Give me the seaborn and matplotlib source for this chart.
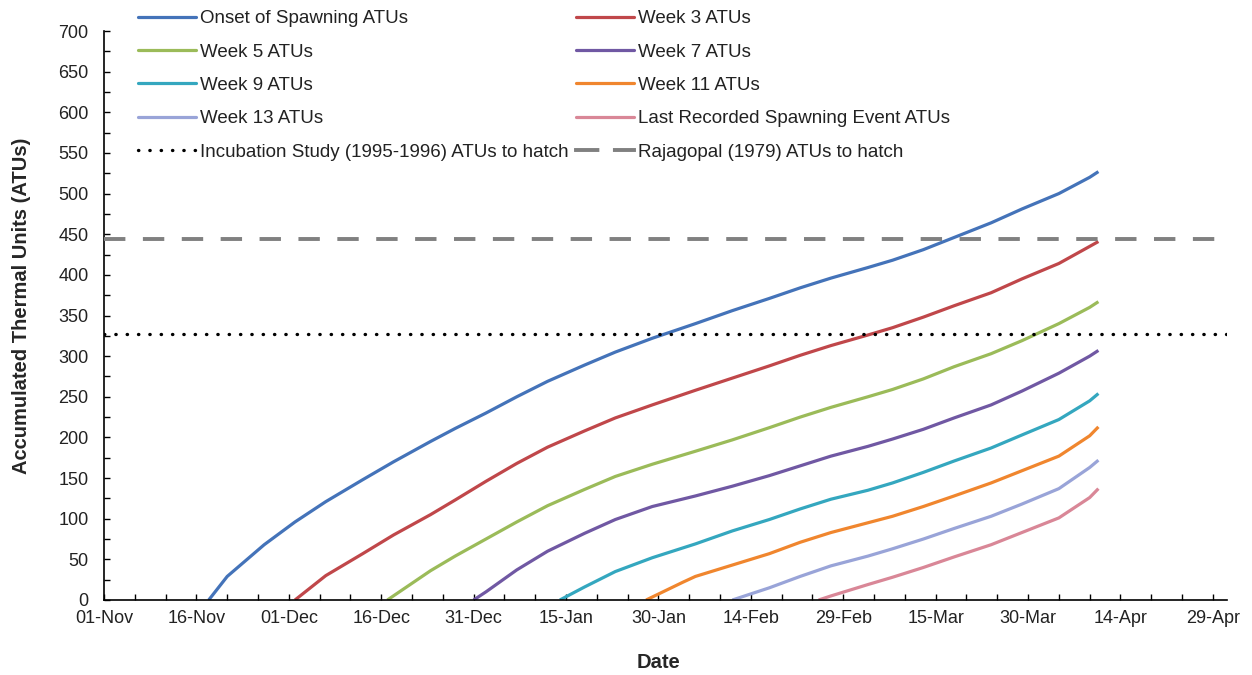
import numpy as np
import pandas as pd
import matplotlib
matplotlib.use("Agg")
import matplotlib.pyplot as plt
import matplotlib.dates as mdates
from matplotlib.lines import Line2D
from matplotlib.ticker import MultipleLocator, FixedLocator, NullFormatter
import seaborn as sns

# ---------------- data ----------------
END = "2012-04-10 10:00"

onset_dates = ["2011-11-18", "2011-11-21", "2011-11-27", "2011-12-02", "2011-12-07", "2011-12-13",
               "2011-12-18", "2011-12-24", "2011-12-28", "2012-01-02", "2012-01-07", "2012-01-12",
               "2012-01-18", "2012-01-23", "2012-01-29", "2012-02-05", "2012-02-11", "2012-02-17",
               "2012-02-22", "2012-02-27", "2012-03-04", "2012-03-08", "2012-03-13", "2012-03-18",
               "2012-03-24", "2012-03-29", "2012-04-04", "2012-04-09", END]
onset_atu = [0, 29, 68, 96, 121, 148, 170, 195, 211, 230, 250, 269, 289, 305, 322, 340, 356, 371,
             384, 396, 409, 418, 431, 446, 464, 481, 500, 520, 527]

week3_dates = ["2011-12-02", "2011-12-07", "2011-12-13", "2011-12-18", "2011-12-24", "2011-12-28",
               "2012-01-02", "2012-01-07", "2012-01-12", "2012-01-18", "2012-01-23", "2012-01-29",
               "2012-02-05", "2012-02-11", "2012-02-17", "2012-02-22", "2012-02-27", "2012-03-04",
               "2012-03-08", "2012-03-13", "2012-03-18", "2012-03-24", "2012-03-29", "2012-04-04",
               "2012-04-09", END]
week3_atu = [0, 30, 57, 80, 105, 123, 146, 168, 188, 208, 224, 240, 258, 273, 288, 301, 313, 326,
             335, 348, 362, 378, 395, 414, 435, 441]

week5_dates = ["2011-12-17", "2011-12-24", "2011-12-28", "2012-01-02", "2012-01-07", "2012-01-12",
               "2012-01-18", "2012-01-23", "2012-01-29", "2012-02-05", "2012-02-11", "2012-02-17",
               "2012-02-22", "2012-02-27", "2012-03-04", "2012-03-08", "2012-03-13", "2012-03-18",
               "2012-03-24", "2012-03-29", "2012-04-04", "2012-04-09", END]
week5_atu = [0, 36, 54, 75, 96, 116, 136, 152, 167, 183, 197, 212, 225, 237, 250, 259, 272, 287,
             303, 319, 340, 360, 367]

week7_dates = ["2011-12-31", "2012-01-02", "2012-01-07", "2012-01-12", "2012-01-18", "2012-01-23",
               "2012-01-29", "2012-02-05", "2012-02-11", "2012-02-17", "2012-02-22", "2012-02-27",
               "2012-03-04", "2012-03-08", "2012-03-13", "2012-03-18", "2012-03-24", "2012-03-29",
               "2012-04-04", "2012-04-09", END]
week7_atu = [0, 10, 37, 60, 82, 99, 115, 128, 140, 153, 165, 177, 189, 198, 210, 224, 240, 257,
             279, 300, 307]

week9_dates = ["2012-01-14", "2012-01-18", "2012-01-23", "2012-01-29", "2012-02-05", "2012-02-11",
               "2012-02-17", "2012-02-22", "2012-02-27", "2012-03-04", "2012-03-08", "2012-03-13",
               "2012-03-18", "2012-03-24", "2012-03-29", "2012-04-04", "2012-04-09", END]
week9_atu = [0, 16, 35, 52, 69, 85, 99, 112, 124, 135, 144, 157, 171, 187, 203, 222, 245, 254]

week11_dates = ["2012-01-28", "2012-02-03", "2012-02-05", "2012-02-11", "2012-02-17", "2012-02-22",
                "2012-02-27", "2012-03-04", "2012-03-08", "2012-03-13", "2012-03-18", "2012-03-24",
                "2012-03-29", "2012-04-04", "2012-04-09", END]
week11_atu = [0, 22, 29, 43, 57, 71, 83, 95, 103, 115, 128, 144, 159, 177, 202, 213]

week13_dates = ["2012-02-11", "2012-02-17", "2012-02-22", "2012-02-27", "2012-03-04", "2012-03-08",
                "2012-03-13", "2012-03-18", "2012-03-24", "2012-03-29", "2012-04-04", "2012-04-09",
                END]
week13_atu = [0, 15, 29, 42, 54, 63, 75, 88, 103, 118, 137, 163, 172]

last_dates = ["2012-02-25", "2012-02-27", "2012-03-04", "2012-03-08", "2012-03-13", "2012-03-18",
              "2012-03-24", "2012-03-29", "2012-04-04", "2012-04-09", END]
last_atu = [0, 5, 19, 28, 40, 53, 68, 83, 101, 126, 137]

incubation_hatch_atu = 327
rajagopal_hatch_atu = 444

series_names = ["Onset of Spawning ATUs", "Week 3 ATUs", "Week 5 ATUs", "Week 7 ATUs",
                "Week 9 ATUs", "Week 11 ATUs", "Week 13 ATUs", "Last Recorded Spawning Event ATUs"]
series_dates = [onset_dates, week3_dates, week5_dates, week7_dates,
                week9_dates, week11_dates, week13_dates, last_dates]
series_values = [onset_atu, week3_atu, week5_atu, week7_atu,
                 week9_atu, week11_atu, week13_atu, last_atu]
series_colors = ["#4473B9", "#C0474A", "#9BBB59", "#7058A3",
                 "#34A7BF", "#F0862E", "#99A4D8", "#D98797"]
incubation_label = "Incubation Study (1995-1996) ATUs to hatch"
rajagopal_label = "Rajagopal (1979) ATUs to hatch"

# ---------------- build long table ----------------
frames = []
for name, d, v in zip(series_names, series_dates, series_values):
    frames.append(pd.DataFrame({"date": pd.to_datetime(d, format="ISO8601"),
                                "atu": v, "series": name}))
df = pd.concat(frames, ignore_index=True)

# ---------------- style ----------------
sns.set_style("ticks")
plt.rcParams["font.family"] = ["Liberation Sans", "DejaVu Sans"]

W, H = 1252, 675
fig = plt.figure(figsize=(W / 100, H / 100), dpi=100)
ax_l, ax_r, ax_b, ax_t = 104, 1227, 600, 31
ax = fig.add_axes([ax_l / W, 1 - ax_b / H, (ax_r - ax_l) / W, (ax_b - ax_t) / H])

LW = 2.3
palette = dict(zip(series_names, series_colors))
sns.lineplot(data=df, x="date", y="atu", hue="series", hue_order=series_names,
             palette=palette, linewidth=LW, legend=False, ax=ax,
             estimator=None, sort=False)
for ln in ax.get_lines():
    ln.set_solid_joinstyle("round")
    ln.set_solid_capstyle("butt")

dot_style = (0, (0.1, 3.3))
dash_style = (0, (5.5, 4.5))
ax.axhline(incubation_hatch_atu, color="black", linestyle=dot_style, linewidth=2.4,
           dash_capstyle="round", zorder=3)
ax.axhline(rajagopal_hatch_atu, color="#808080", linestyle=dash_style, linewidth=2.8, zorder=3)

# axes limits / ticks
x0 = pd.Timestamp("2011-11-01")
x1 = pd.Timestamp("2012-05-01 07:00")
ax.set_xlim(x0, x1)
ax.set_ylim(0, 700)

major_dates = pd.date_range("2011-11-01", "2012-04-29", freq="15D")
minor_dates = pd.date_range("2011-11-01", "2012-04-29", freq="5D")
ax.xaxis.set_major_locator(FixedLocator(mdates.date2num(major_dates)))
ax.xaxis.set_minor_locator(FixedLocator(mdates.date2num(minor_dates)))
ax.xaxis.set_major_formatter(mdates.DateFormatter("%d-%b"))
ax.xaxis.set_minor_formatter(NullFormatter())
ax.yaxis.set_major_locator(MultipleLocator(50))
ax.yaxis.set_minor_locator(MultipleLocator(25))

ax.tick_params(axis="both", which="both", direction="in", length=4, width=1.0,
               color="black", labelsize=13, labelcolor="#222222")
ax.tick_params(axis="x", which="both", pad=7)
ax.tick_params(axis="y", which="both", pad=11)

sns.despine(ax=ax)
for s in ["left", "bottom"]:
    ax.spines[s].set_linewidth(1.2)
    ax.spines[s].set_color("black")

ax.set_xlabel("Date", fontsize=14.5, fontweight="bold", va="center")
ax.xaxis.set_label_coords((658 - ax_l) / (ax_r - ax_l), (ax_b - 662) / (ax_b - ax_t))
ax.set_ylabel("Accumulated Thermal Units (ATUs)", fontsize=14.5, fontweight="bold",
              va="center", ha="center")
ax.yaxis.set_label_coords((22 - ax_l) / (ax_r - ax_l), (ax_b - 306) / (ax_b - ax_t))

# ---------------- legends (two columns) ----------------
def line_handle(color, ls="-", lw=LW, cap="projecting"):
    return Line2D([0], [0], color=color, linestyle=ls, linewidth=lw, dash_capstyle=cap)

left_idx = [0, 2, 4, 6]
right_idx = [1, 3, 5, 7]
left_h = [line_handle(series_colors[i]) for i in left_idx] + \
         [line_handle("black", dot_style, 2.4, "round")]
left_l = [series_names[i] for i in left_idx] + [incubation_label]
right_h = [line_handle(series_colors[i]) for i in right_idx] + \
          [line_handle("#808080", dash_style, 2.8)]
right_l = [series_names[i] for i in right_idx] + [rajagopal_label]

leg_kw = dict(loc="upper left", frameon=False, fontsize=13.5, handlelength=3.1,
              handletextpad=0.2, labelspacing=0.87, borderpad=0, borderaxespad=0)
leg1 = fig.legend(left_h, left_l, bbox_to_anchor=(138 / W, 1 - 10 / H), **leg_kw)
leg2 = fig.legend(right_h, right_l, bbox_to_anchor=(576 / W, 1 - 10 / H), **leg_kw)
for leg in (leg1, leg2):
    for t in leg.get_texts():
        t.set_color("#222222")

fig.savefig("out.png", dpi=100)
